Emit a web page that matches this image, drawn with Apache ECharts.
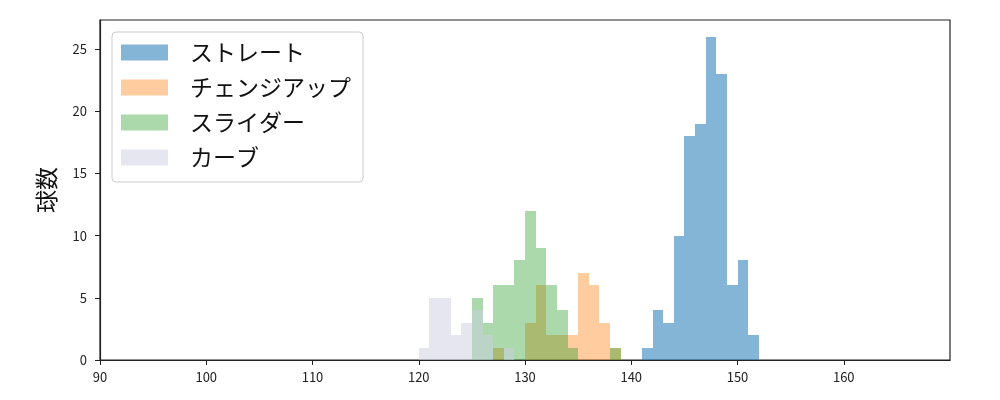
<!DOCTYPE html>
<html>
<head>
<meta charset="utf-8">
<script src="https://cdn.jsdelivr.net/npm/echarts@6/dist/echarts.min.js"></script>
<style>
html,body{margin:0;padding:0;background:#fff;}
#c{width:1000px;height:400px;}
</style>
</head>
<body>
<div id="c"></div>
<script>
const seriesNames = ['ストレート', 'チェンジアップ', 'スライダー', 'カーブ'];
const binWidth = 1;
const straightBins = [141,142,143,144,145,146,147,148,149,150,151];
const straightCounts = [1,4,3,10,18,19,26,23,6,8,2];
const changeupBins = [127,128,129,130,131,132,133,134,135,136,137,138];
const changeupCounts = [1,0,0,3,6,2,2,2,7,6,3,1];
const sliderBins = [125,126,127,128,129,130,131,132,133,134,135,136,137,138];
const sliderCounts = [5,3,6,6,8,12,9,6,4,1,0,0,0,1];
const curveBins = [120,121,122,123,124,125,126,127,128];
const curveCounts = [1,5,5,2,3,4,2,0,1];
const xTicks = [90,100,110,120,130,140,150,160];
const yTicks = [0,5,10,15,20,25];
const colors = ['rgba(31,119,180,0.55)','rgba(255,127,14,0.4)','rgba(44,160,44,0.4)','rgba(205,205,228,0.5)'];

function toData(bins, counts){
  return bins.map((b,i)=>[b, b+binWidth, counts[i]]);
}
function renderItem(params, api){
  const p0 = api.coord([api.value(0), api.value(2)]);
  const p1 = api.coord([api.value(1), 0]);
  const x0 = Math.round(p0[0]), x1 = Math.round(p1[0]);
  const y0 = Math.round(p0[1]), y1 = Math.round(p1[1]);
  return {
    type:'rect',
    shape:{x:x0, y:y0, width:x1-x0, height:y1-y0},
    style:{fill: api.visual('color')}
  };
}
const allData = [
  toData(straightBins, straightCounts),
  toData(changeupBins, changeupCounts),
  toData(sliderBins, sliderCounts),
  toData(curveBins, curveCounts)
];
const font = '"Noto Sans CJK JP", "Noto Sans", sans-serif';
const chart = echarts.init(document.getElementById('c'), null, {renderer:'canvas'});
chart.setOption({
  animation:false,
  textStyle:{fontFamily:font},
  grid:{left:100, right:50, top:20, bottom:40, show:true, borderColor:'#222', borderWidth:1.2, backgroundColor:'transparent'},
  legend:{
    orient:'vertical', left:112, top:32,
    data: seriesNames.map((n,i)=>({name:n, icon:'rect', itemStyle:{color:colors[i]}})),
    itemWidth:47, itemHeight:16, itemGap:12,
    padding:[9,12,13,9],
    backgroundColor:'rgba(255,255,255,0.85)',
    borderColor:'#cccccc', borderWidth:1, borderRadius:4,
    textStyle:{fontSize:23, lineHeight:23, color:'#111', fontFamily:font, padding:[0,0,0,17]}
  },
  xAxis:{
    type:'value', min:90, max:170,
    axisLine:{show:true, lineStyle:{color:'#222', width:1.2}},
    axisTick:{show:true, length:5, lineStyle:{color:'#222'}, customValues:xTicks},
    axisLabel:{fontSize:13, color:'#222', margin:11, customValues:xTicks, fontFamily:font},
    splitLine:{show:false}
  },
  yAxis:{
    type:'value', min:0, max:27.33,
    name:'球数', nameLocation:'middle', nameRotate:90, nameGap:42,
    nameTextStyle:{fontSize:23, color:'#111', fontFamily:font},
    axisLine:{show:true, lineStyle:{color:'#222', width:1.2}},
    axisTick:{show:true, length:5, lineStyle:{color:'#222'}, customValues:yTicks},
    axisLabel:{fontSize:13, color:'#222', margin:13, customValues:yTicks, fontFamily:font},
    splitLine:{show:false}
  },
  series: seriesNames.map((n,i)=>({
    name:n, type:'custom', renderItem:renderItem,
    encode:{x:[0,1], y:2},
    itemStyle:{color:colors[i]},
    data: allData[i],
    z: 2+i
  }))
});
</script>
</body>
</html>
